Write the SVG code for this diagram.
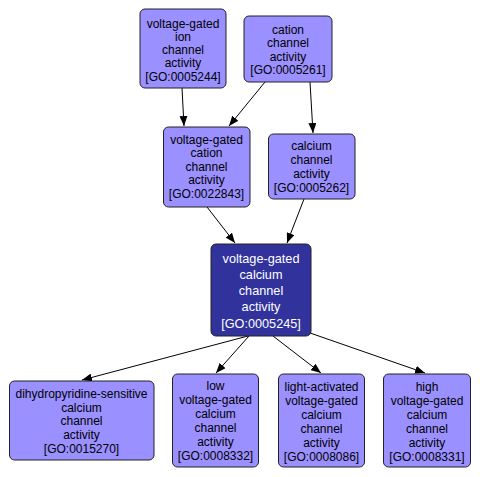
<svg xmlns="http://www.w3.org/2000/svg" width="480" height="477" viewBox="0 0 480 477">
<defs>
<marker id="ah" markerWidth="10" markerHeight="8" refX="10" refY="4" orient="auto" markerUnits="userSpaceOnUse">
<path d="M0,0 L10,4 L0,8 Z" fill="#000"/>
</marker>
<style>
.n rect{fill:#9b90ff;stroke:#222;stroke-width:1}
.n text{font-family:"Liberation Sans",Arial,sans-serif;font-size:12px;fill:#000;text-anchor:middle}
.c rect{fill:#32329c;stroke:#222;stroke-width:1}
.c text{font-family:"Liberation Sans",Arial,sans-serif;font-size:12.7px;fill:#fff;text-anchor:middle}
#edges line{stroke:#000;stroke-width:1;marker-end:url(#ah)}
</style>
</defs>
<rect width="480" height="477" fill="#fff"/>
<g id="edges">
<line x1="182" y1="88" x2="184" y2="126"/>
<line x1="265" y1="82" x2="229" y2="126"/>
<line x1="310" y1="82" x2="313" y2="133"/>
<line x1="207" y1="207" x2="235" y2="243"/>
<line x1="304" y1="199" x2="287" y2="243"/>
<line x1="248" y1="336" x2="82" y2="380"/>
<line x1="249" y1="336" x2="216" y2="373"/>
<line x1="273" y1="336" x2="321" y2="373"/>
<line x1="290" y1="326" x2="425" y2="373"/>
</g>
<g id="GO0005244" class="n">
<rect x="140" y="9" width="86" height="79" rx="5"/>
<text x="183" y="27.5">voltage-gated</text>
<text x="183" y="40.8">ion</text>
<text x="183" y="54.1">channel</text>
<text x="183" y="67.4">activity</text>
<text x="183" y="80.7">[GO:0005244]</text>
</g>
<g id="GO0005261" class="n">
<rect x="244" y="16" width="88" height="66" rx="5"/>
<text x="288" y="33.6">cation</text>
<text x="288" y="47">channel</text>
<text x="288" y="60.5">activity</text>
<text x="288" y="74">[GO:0005261]</text>
</g>
<g id="GO0022843" class="n">
<rect x="163.5" y="127" width="86.5" height="80" rx="5"/>
<text x="206.5" y="143.6">voltage-gated</text>
<text x="206.5" y="157">cation</text>
<text x="206.5" y="170.5">channel</text>
<text x="206.5" y="184">activity</text>
<text x="206.5" y="197.5">[GO:0022843]</text>
</g>
<g id="GO0005262" class="n">
<rect x="268.5" y="134" width="86.5" height="65" rx="5"/>
<text x="311.5" y="150">calcium</text>
<text x="311.5" y="164">channel</text>
<text x="311.5" y="177.5">activity</text>
<text x="311.5" y="191.5">[GO:0005262]</text>
</g>
<g id="GO0005245" class="c">
<rect x="211" y="244" width="100" height="92" rx="5"/>
<text x="261" y="262.6">voltage-gated</text>
<text x="261" y="278.6">calcium</text>
<text x="261" y="294.6">channel</text>
<text x="261" y="311">activity</text>
<text x="261" y="327.5">[GO:0005245]</text>
</g>
<g id="GO0015270" class="n">
<rect x="9.5" y="381" width="144.5" height="79" rx="5"/>
<text x="81.5" y="397.6">dihydropyridine-sensitive</text>
<text x="81.5" y="411.6">calcium</text>
<text x="81.5" y="425">channel</text>
<text x="81.5" y="439.3">activity</text>
<text x="81.5" y="452.6">[GO:0015270]</text>
</g>
<g id="GO0008332" class="n">
<rect x="172.5" y="374" width="86" height="93" rx="5"/>
<text x="215.5" y="389.8">low</text>
<text x="215.5" y="403.8">voltage-gated</text>
<text x="215.5" y="417.8">calcium</text>
<text x="215.5" y="431.8">channel</text>
<text x="215.5" y="445.8">activity</text>
<text x="215.5" y="459.8">[GO:0008332]</text>
</g>
<g id="GO0008086" class="n">
<rect x="278.5" y="374" width="86" height="93" rx="5"/>
<text x="321.5" y="390.5">light-activated</text>
<text x="321.5" y="404.5">voltage-gated</text>
<text x="321.5" y="418.5">calcium</text>
<text x="321.5" y="432.5">channel</text>
<text x="321.5" y="446.5">activity</text>
<text x="321.5" y="460.5">[GO:0008086]</text>
</g>
<g id="GO0008331" class="n">
<rect x="383.5" y="374" width="87" height="93" rx="5"/>
<text x="427" y="390.5">high</text>
<text x="427" y="404.5">voltage-gated</text>
<text x="427" y="418.5">calcium</text>
<text x="427" y="432.5">channel</text>
<text x="427" y="446.5">activity</text>
<text x="427" y="460.5">[GO:0008331]</text>
</g>
</svg>
